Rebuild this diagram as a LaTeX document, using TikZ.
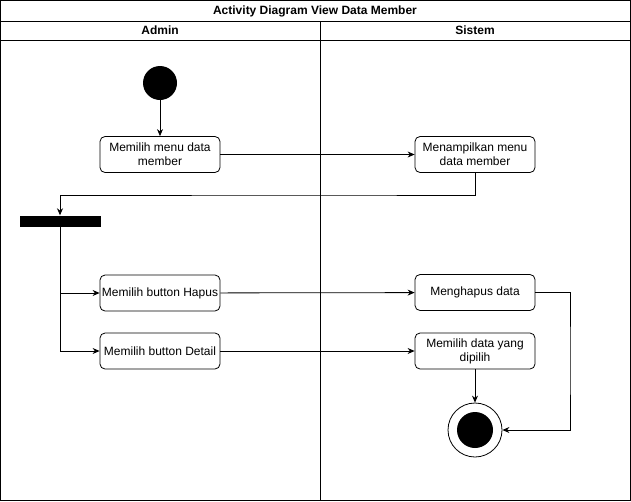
\documentclass[tikz,border=0pt]{standalone}
\usepackage{fontspec}
\setmainfont{Liberation Sans}
\usetikzlibrary{arrows.meta}
\tikzset{
        act/.style={rectangle,rounded corners=5pt,draw,line width=0.8pt,minimum width=120pt,minimum height=36pt,align=center,inner sep=1pt,font=\fontsize{12}{14}\selectfont},
        flow/.style={line width=0.8pt,-{Stealth[length=7pt,width=6pt]}},
        lane/.style={line width=0.8pt}
    }

\begin{document}
\begin{tikzpicture}[x=1pt,y=-1pt]

\useasboundingbox (0,0) rectangle (631,501);

% swimlanes
\draw[lane] (0.5,0.5) rectangle (630.5,500.5);
\draw[lane] (0.5,21) -- (630.5,21);
\draw[lane] (0.5,40) -- (630.5,40);
\draw[lane] (320,21) -- (320,500.5);
\draw (315,11) node(TITLE){\fontsize{12}{14}\selectfont\bfseries Activity Diagram View Data Member};
\draw (160,30.5) node(ADMIN){\fontsize{12}{14}\selectfont\bfseries Admin};
\draw (475,30.5) node(SISTEM){\fontsize{12}{14}\selectfont\bfseries Sistem};

\draw (160,83) node(START)[circle,fill,inner sep=0pt,minimum size=34pt]{};
\draw (160,154.5) node(MENU)[act]{Memilih menu data\\member};
\draw (475,154.5) node(TAMPIL)[act]{Menampilkan menu\\data member};
\draw (60,221) node(BAR)[rectangle,fill,inner sep=0pt,minimum width=81pt,minimum height=11pt]{};
\draw (160,293) node(HAPUS)[act]{Memilih button Hapus};
\draw (160,351) node(DETAIL)[act]{Memilih button Detail};
\draw (475,292.5) node(HAPUSDATA)[act]{Menghapus data};
\draw (475,351) node(PILIH)[act]{Memilih data yang\\dipilih};
\draw (475,430) node(END)[circle,draw,line width=0.8pt,inner sep=0pt,minimum size=54pt]{};
\draw (475,430) node(ENDDOT)[circle,fill,inner sep=0pt,minimum size=36pt]{};

\draw[flow] (START) -- (MENU);
\draw[flow] (MENU) -- (TAMPIL);
\draw[flow] (TAMPIL.south) |- (320,195) -| (BAR.north);
\draw[flow] (BAR.south) |- (HAPUS.west);
\draw[flow] (BAR.south) |- (DETAIL.west);
\draw[flow] (HAPUS) -- (HAPUSDATA);
\draw[flow] (DETAIL) -- (PILIH);
\draw[flow] (PILIH) -- (END);
\draw[flow] (HAPUSDATA.east) -| (570,360) |- (END.east);

\end{tikzpicture}
\end{document}
